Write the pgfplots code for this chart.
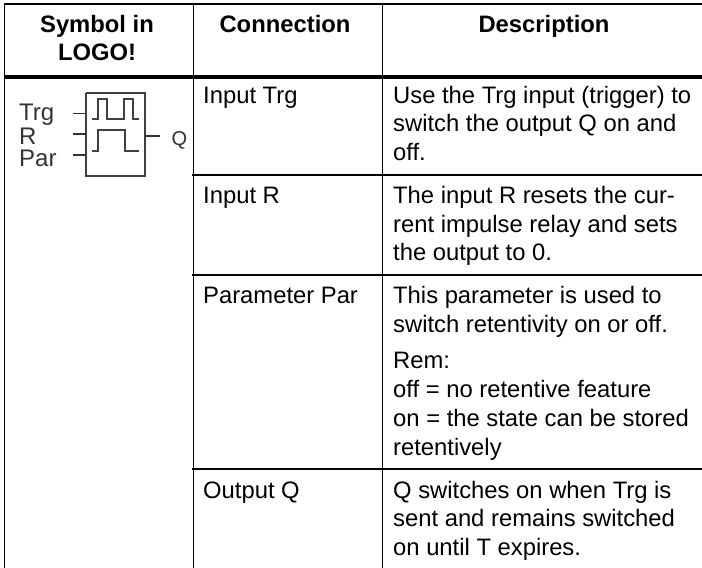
\documentclass[border=0pt]{standalone}
\usepackage{fontspec}
\setmainfont{Liberation Sans}
\usepackage{pgfplots}
\pgfplotsset{compat=1.18}
\newcommand{\tx}[3]{\node[anchor=base west,inner sep=0pt,font=\fontsize{23.8}{28}\selectfont] at (axis cs:#1,#2) {#3};}
\newcommand{\hx}[3]{\node[anchor=base,inner sep=0pt,font=\fontsize{23.8}{28}\selectfont\bfseries] at (axis cs:#1,#2) {#3};}
\newcommand{\sx}[3]{\node[anchor=base west,inner sep=0pt,font=\fontsize{24}{28}\selectfont,text=black!80] at (axis cs:#1,#2) {#3};}
\begin{document}
\begin{tikzpicture}[x=1pt,y=1pt]
\path[use as bounding box] (0,0) rectangle (702,568);
\begin{axis}[at={(0,0)},anchor=south west,scale only axis,width=702pt,height=568pt,
 xmin=0,xmax=702,ymin=0,ymax=568,y dir=reverse,hide axis,clip=true]
% table rules
\addplot[black,line width=1.2pt] coordinates {(4.3,568)(4.3,4)(702,4)};
\addplot[black,line width=1.2pt] coordinates {(193.3,4)(193.3,568)};
\addplot[black,line width=1.2pt] coordinates {(382.3,4)(382.3,568)};
\addplot[black,line width=3.4pt] coordinates {(4.3,77)(702,77)};
\addplot[black,line width=1.2pt] coordinates {(192,175)(702,175)};
\addplot[black,line width=1.2pt] coordinates {(192,275)(702,275)};
\addplot[black,line width=1.2pt] coordinates {(192,469)(702,469)};
% symbol
\addplot[black!75,line width=1.4pt] coordinates {(86,93)(145,93)(145,176)(86,176)(86,93)};
\addplot[black!80,line width=1.2pt] coordinates {(73,113.5)(86,113.5)};
\addplot[black!80,line width=1.2pt] coordinates {(73,134)(86,134)};
\addplot[black!80,line width=1.2pt] coordinates {(73,155)(86,155)};
\addplot[black!80,line width=1.2pt] coordinates {(145,136)(160,136)};
\addplot[black!75,line width=1.2pt] coordinates {(92,119)(98,119)(98,99)(107,99)(107,119)(124,119)(124,99)(133,99)(133,119)(139,119)};
\addplot[black!75,line width=1.2pt] coordinates {(92,151)(98,151)(98,130)(125,130)(125,151)(139,151)};
\sx{19}{120}{Trg}
\sx{19}{144}{R}
\sx{19}{166}{Par}
\node[anchor=base west,inner sep=0pt,font=\fontsize{20}{24}\selectfont,text=black!80] at (axis cs:171.5,145) {Q};
% header
\hx{97}{32}{Symbol in}
\hx{97}{60}{LOGO!}
\hx{285}{32}{Connection}
\hx{544}{32}{Description}
% column 2
\tx{203}{103}{Input Trg}
\tx{203}{203}{Input R}
\tx{203}{303}{Parameter Par}
\tx{203}{498}{Output Q}
% column 3
\tx{393}{103}{Use the Trg input (trigger) to}
\tx{393}{131.5}{switch the output Q on and}
\tx{393}{160.5}{off.}
\tx{393}{203}{The input R resets the cur-}
\tx{393}{232}{rent impulse relay and sets}
\tx{393}{260.5}{the output to 0.}
\tx{393}{303}{This parameter is used to}
\tx{393}{332}{switch retentivity on or off.}
\tx{393}{368}{Rem:}
\tx{393}{397}{off = no retentive feature}
\tx{393}{426}{on = the state can be stored}
\tx{393}{455}{retentively}
\tx{393}{498}{Q switches on when Trg is}
\tx{393}{526.5}{sent and remains switched}
\tx{393}{555}{on until T expires.}
\end{axis}
\end{tikzpicture}
\end{document}
